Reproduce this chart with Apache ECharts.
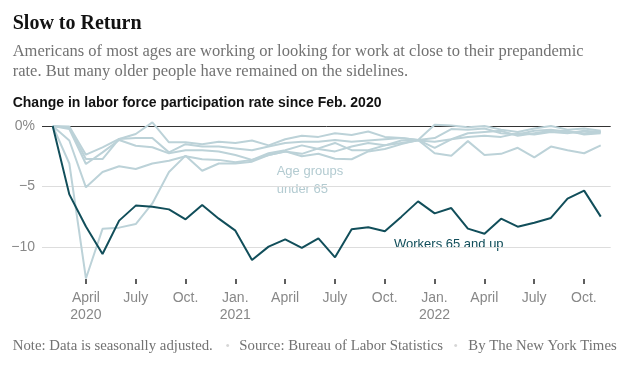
<!DOCTYPE html>
<html><head><meta charset="utf-8">
<script src="https://cdn.jsdelivr.net/npm/echarts@6/dist/echarts.min.js"></script>
<style>html,body{margin:0;padding:0;background:#fff}#c{width:629px;height:373px}</style>
</head><body><div id="c"></div>
<script>
// Months from Feb. 2020 to Nov. 2022
const months = [
  '2020-02','2020-03','2020-04','2020-05','2020-06','2020-07','2020-08','2020-09','2020-10','2020-11','2020-12',
  '2021-01','2021-02','2021-03','2021-04','2021-05','2021-06','2021-07','2021-08','2021-09','2021-10','2021-11','2021-12',
  '2022-01','2022-02','2022-03','2022-04','2022-05','2022-06','2022-07','2022-08','2022-09','2022-10','2022-11'
];

// Change in labor force participation rate since Feb. 2020 (percentage points)
const workers65 = [0, -5.65, -8.3, -10.58, -7.82, -6.58, -6.67, -6.89, -7.71, -6.53, -7.66,
  -8.65, -11.07, -9.97, -9.37, -10.08, -9.28, -10.85, -8.54, -8.37, -8.7, -7.49, -6.23,
  -7.22, -6.78, -8.48, -8.9, -7.66, -8.32, -7.99, -7.6, -6.01, -5.34, -7.49];

const ageGroupA = [0, -3.1, -12.6, -8.5, -8.4, -8.1, -6.4, -3.8, -2.45, -3.7, -3.1,
  -3.1, -2.95, -2.4, -2.1, -2.5, -2.3, -2.7, -2.75, -2.1, -1.9, -1.5, -1.15,
  -2.26, -2.45, -1.25, -2.4, -2.3, -1.8, -2.6, -1.7, -2.0, -2.25, -1.6];
const ageGroupB = [0, -1.2, -5.07, -3.8, -3.33, -3.55, -3.1, -2.87, -2.5, -2.75, -2.8,
  -3.0, -2.8, -2.25, -2.0, -1.6, -1.9, -2.1, -1.7, -1.4, -1.6, -1.2, -1.15,
  -1.8, -1.1, -0.9, -0.8, -0.9, -0.6, -0.7, -0.5, -0.6, -0.4, -0.5];
const ageGroupC = [0, -0.05, -2.37, -1.76, -1.07, -0.66, 0.3, -1.35, -1.35, -1.5, -1.3,
  -1.4, -1.2, -1.6, -1.1, -0.8, -0.9, -0.6, -0.75, -0.45, -0.9, -1.0, -1.15,
  0.1, 0.05, -0.1, 0.0, -0.3, -0.5, -0.2, 0.0, -0.3, -0.2, -0.4];
const ageGroupD = [0, -0.17, -2.73, -2.73, -1.07, -0.99, -0.99, -2.18, -1.5, -1.7, -1.7,
  -1.85, -2.0, -1.7, -1.4, -1.3, -1.3, -1.15, -1.3, -1.2, -1.1, -1.0, -1.15,
  -1.0, -0.25, -0.3, -0.2, -0.6, -0.7, -0.4, -0.3, -0.5, -0.6, -0.5];
const ageGroupE = [0, -0.25, -3.14, -2.18, -1.16, -1.63, -1.76, -2.26, -2.0, -2.0, -2.1,
  -2.4, -2.8, -2.4, -2.1, -2.3, -1.85, -1.4, -2.0, -2.0, -1.6, -1.4, -1.2,
  -1.3, -1.1, -0.6, -0.5, -0.4, -0.8, -0.6, -0.4, -0.4, -0.7, -0.6];

// X-axis tick months and labels (one tick every 3 months)
const tickMonths = ['2020-04','2020-07','2020-10','2021-01','2021-04','2021-07','2021-10','2022-01','2022-04','2022-07','2022-10'];
const tickLabels = ['April\n2020','July','Oct.','Jan.\n2021','April','July','Oct.','Jan.\n2022','April','July','Oct.'];

// Y-axis tick labels
const yTickValues = [0, -5, -10];
const yTickLabels = ['0%', '\u22125', '\u221210'];

const tickIdx = tickMonths.map(m => months.indexOf(m));
const toData = arr => arr.map((v, i) => [i, v]);

const LIGHT = '#bcd2d8';
const DARK = '#114e5a';
const SANS = '"Liberation Sans", Arial, sans-serif';
const SERIF = '"Liberation Serif", "Times New Roman", serif';

const lightSeries = [ageGroupA, ageGroupB, ageGroupC, ageGroupD, ageGroupE].map((arr, k) => ({
  type: 'line', name: 'age' + k, data: toData(arr), symbol: 'none', z: 2,
  xAxisIndex: 0, yAxisIndex: 0,
  lineStyle: { color: LIGHT, width: 2 }, silent: true
}));

// pixel scale: 16.6 px per month, first month at x=52.7
const PX = 16.6, X0 = 52.7, W = 629;
const tStart = tickIdx[0], tEnd = tickIdx[tickIdx.length - 1];

const chart = echarts.init(document.getElementById('c'), null, { renderer: 'canvas' });
chart.setOption({
  animation: false,
  grid: [
    { left: 42, right: 18.3, top: 65.5, bottom: 65.5 },
    // thin strip below the plot: its vertical split lines act as the x tick marks
    { left: X0 + PX * tStart, right: W - (X0 + PX * tEnd), top: 279, bottom: 89 }
  ],
  xAxis: [{
    gridIndex: 0, type: 'value', min: -0.645, max: 33.6,
    axisLine: { show: false, onZero: false }, splitLine: { show: false },
    axisTick: { show: false }, axisLabel: { show: false }
  }, {
    gridIndex: 1, type: 'value', min: tStart, max: tEnd, interval: 3,
    axisLine: { show: false, onZero: false }, axisTick: { show: false },
    splitLine: { show: true, lineStyle: { color: '#2a2a2a', width: 1.5 } },
    axisLabel: {
      show: true,
      formatter: v => { const k = tickIdx.indexOf(Math.round(v)); return k >= 0 ? tickLabels[k] : ''; },
      color: '#888', fontSize: 14, fontFamily: SANS, lineHeight: 17, margin: 6
    }
  }],
  yAxis: [{
    gridIndex: 0, type: 'value', min: -15, max: 5, interval: 5,
    axisLine: { show: false }, axisTick: { show: false },
    axisLabel: {
      formatter: v => { const k = yTickValues.indexOf(v); return k >= 0 ? yTickLabels[k] : ''; },
      color: '#888', fontSize: 14, fontFamily: SANS, margin: 7
    },
    splitLine: { show: true,
      lineStyle: { color: ['rgba(0,0,0,0)', '#dddddd', '#dddddd', '#333333', 'rgba(0,0,0,0)'], width: 1 } }
  }, {
    gridIndex: 1, type: 'value', show: false
  }],
  series: lightSeries.concat([{
    type: 'line', name: 'Workers 65 and up', data: toData(workers65), symbol: 'none', z: 3,
    xAxisIndex: 0, yAxisIndex: 0,
    lineStyle: { color: DARK, width: 2 }, silent: true
  }]),
  graphic: [
    { type: 'text', x: 12.7, y: 24, style: { text: 'Slow to Return', font: 'bold 20px ' + SERIF, fill: '#121212', verticalAlign: 'middle' } },
    { type: 'text', x: 12.7, y: 51.8, style: { text: 'Americans of most ages are working or looking for work at close to their prepandemic', font: '16.5px ' + SERIF, fill: '#727272', verticalAlign: 'middle' } },
    { type: 'text', x: 12.7, y: 71.2, style: { text: 'rate. But many older people have remained on the sidelines.', font: '16.5px ' + SERIF, fill: '#727272', verticalAlign: 'middle' } },
    { type: 'text', x: 12.7, y: 102.7, style: { text: 'Change in labor force participation rate since Feb. 2020', font: 'bold 14px ' + SANS, fill: '#121212', verticalAlign: 'middle' } },
    { type: 'text', x: 276.7, y: 180.3, style: { text: 'Age groups\nunder 65', font: '13px ' + SANS, lineHeight: 17.3, fill: '#b3cbd1', verticalAlign: 'middle' } },
    { type: 'text', x: 394, y: 244.3, style: { text: 'Workers 65 and up', font: '13px ' + SANS, fill: DARK, verticalAlign: 'middle' } },
    { type: 'text', x: 12.7, y: 345.8, style: { text: 'Note: Data is seasonally adjusted.', font: '14.8px ' + SERIF, fill: '#727272', verticalAlign: 'middle' } },
    { type: 'text', x: 227.7, y: 346, style: { text: '\u2022', font: '11px ' + SANS, fill: '#d6d6d6', align: 'center', verticalAlign: 'middle' } },
    { type: 'text', x: 239.3, y: 345.8, style: { text: 'Source: Bureau of Labor Statistics', font: '14.8px ' + SERIF, fill: '#727272', verticalAlign: 'middle' } },
    { type: 'text', x: 455.7, y: 346, style: { text: '\u2022', font: '11px ' + SANS, fill: '#d6d6d6', align: 'center', verticalAlign: 'middle' } },
    { type: 'text', x: 468.3, y: 345.8, style: { text: 'By The New York Times', font: '14.8px ' + SERIF, fill: '#727272', verticalAlign: 'middle' } }
  ]
});
</script>
</body></html>
